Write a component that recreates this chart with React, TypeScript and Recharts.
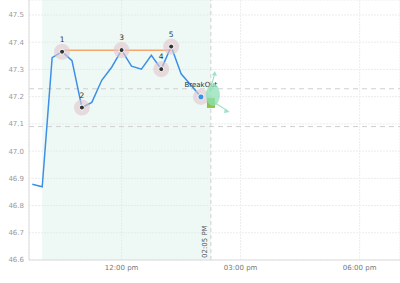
import React from 'react';
import { ComposedChart, Line, XAxis, YAxis, CartesianGrid, ReferenceArea, ReferenceLine } from 'recharts';

// minutes since midnight, 15 min bars
const times = [585, 600, 615, 630, 645, 660, 675, 690, 705, 720, 735, 750, 765, 780, 795, 810, 825, 840];
const prices = [46.878, 46.869, 47.343, 47.365, 47.332, 47.16, 47.179, 47.26, 47.308, 47.371, 47.312, 47.301, 47.352, 47.301, 47.384, 47.284, 47.242, 47.199];
const tags = ['', '', '', '1', '', '2', '', '', '', '3', '', '', '', '4', '5', '', '', 'BreakOut'];

const resistanceTimes = [630, 795];
const resistanceValues = [47.37, 47.37];

const bandLevels = [47.229, 47.09];
const zoneStart = 600;
const zoneEnd = 855;
const zoneLabel = '02:05 PM';

const yTicks = [46.6, 46.7, 46.8, 46.9, 47.0, 47.1, 47.2, 47.3, 47.4, 47.5];
const xTicks = [720, 900, 1080];

const chartData = times.map((t, i) => ({ t, price: prices[i], tag: tags[i] }));
const resistanceData = resistanceTimes.map((t, i) => ({ t, level: resistanceValues[i] }));

const font = '"DejaVu Sans", Verdana, sans-serif';

const formatTime = (m: number) => {
  const h = Math.floor(m / 60);
  const mm = m % 60;
  const h12 = h % 12 === 0 ? 12 : h % 12;
  return `${String(h12).padStart(2, '0')}:${String(mm).padStart(2, '0')} ${h >= 12 ? 'pm' : 'am'}`;
};

const renderDot = (props: any) => {
  const { cx, cy, payload, index } = props;
  if (!payload || !payload.tag) return <g key={`d-${index}`} />;
  if (payload.tag === 'BreakOut') {
    return (
      <g key={`d-${index}`}>
        <circle cx={cx} cy={cy} r={8} fill="#e3c4cd" fillOpacity={0.6} />
        <text x={cx} y={cy - 10} textAnchor="middle" fontSize={7} fill="#333" fontFamily={font}>BreakOut</text>
        <line x1={cx + 9} y1={cy - 6} x2={cx + 14} y2={cy - 24} stroke="#9fe3c4" strokeWidth={1.2} />
        <path d={`M${cx + 14} ${cy - 26} l-3 4 l5 1 z`} fill="#9fe3c4" />
        <line x1={cx + 14} y1={cy + 6} x2={cx + 27} y2={cy + 14} stroke="#9fe3c4" strokeWidth={1.2} />
        <path d={`M${cx + 29} ${cy + 15} l-5 -3 l-1 4 z`} fill="#9fe3c4" />
        <rect x={cx + 6} y={cy + 1} width={8} height={10} fill="#8bc34a" />
        <ellipse cx={cx + 12} cy={cy - 2} rx={7} ry={11} fill="#8fe0b8" fillOpacity={0.75} />
        <circle cx={cx} cy={cy} r={3} fill="#3d8fe8" stroke="#fff" strokeWidth={0.8} />
      </g>
    );
  }
  return (
    <g key={`d-${index}`}>
      <circle cx={cx} cy={cy} r={8} fill="#e3c4cd" fillOpacity={0.6} />
      <circle cx={cx} cy={cy} r={2.5} fill="#333" stroke="#fff" strokeWidth={1} />
      <text x={cx} y={cy - 10} textAnchor="middle" fontSize={7.5} fill="#333" fontFamily={font}>{payload.tag}</text>
    </g>
  );
};

const ZoneLabel = (props: any) => {
  const { viewBox } = props;
  const x = viewBox.x - 4;
  const y = viewBox.y + viewBox.height - 2;
  return (
    <text x={x} y={y} transform={`rotate(-90 ${x} ${y})`} fontSize={7} fill="#555" fontFamily={font}>{zoneLabel}</text>
  );
};

export default function App() {
  return (
    <div style={{ position: 'absolute', left: 0, top: 0, background: '#fff' }}>
      <ComposedChart width={400} height={283} data={chartData} margin={{ top: 0, right: 0, left: 0, bottom: 0 }}>
        <CartesianGrid stroke="#ececec" strokeDasharray="2 1" />
        <ReferenceArea x1={zoneStart} x2={zoneEnd} fill="#d5efe5" fillOpacity={0.4} stroke="none" ifOverflow="extendDomain" />
        <XAxis
          dataKey="t"
          type="number"
          domain={[580, 1141]}
          ticks={xTicks}
          tickFormatter={formatTime}
          height={23}
          stroke="#ddd"
          tickLine={false}
          tickSize={3}
          tickMargin={2}
          tick={{ fontSize: 7, fill: '#777', fontFamily: font }}
          allowDataOverflow
        />
        <YAxis
          type="number"
          domain={[46.6, 47.555]}
          ticks={yTicks}
          tickFormatter={(v: number) => v.toFixed(1)}
          width={29}
          stroke="#ddd"
          tickLine={false}
          tickSize={3}
          tickMargin={2}
          tick={{ fontSize: 7, fill: '#999', fontFamily: font }}
          allowDataOverflow
        />
        {bandLevels.map((lv) => (
          <ReferenceLine key={lv} y={lv} stroke="#cfcfcf" strokeDasharray="5 4" />
        ))}
        <ReferenceLine x={zoneEnd} stroke="#cfcfcf" strokeDasharray="4 3" label={<ZoneLabel />} />
        <Line
          data={resistanceData}
          dataKey="level"
          type="linear"
          stroke="#f5a66b"
          strokeWidth={1.5}
          dot={false}
          isAnimationActive={false}
        />
        <Line
          dataKey="price"
          type="linear"
          stroke="#3d8fe8"
          strokeWidth={1.5}
          dot={renderDot}
          activeDot={false}
          isAnimationActive={false}
        />
      </ComposedChart>
    </div>
  );
}
